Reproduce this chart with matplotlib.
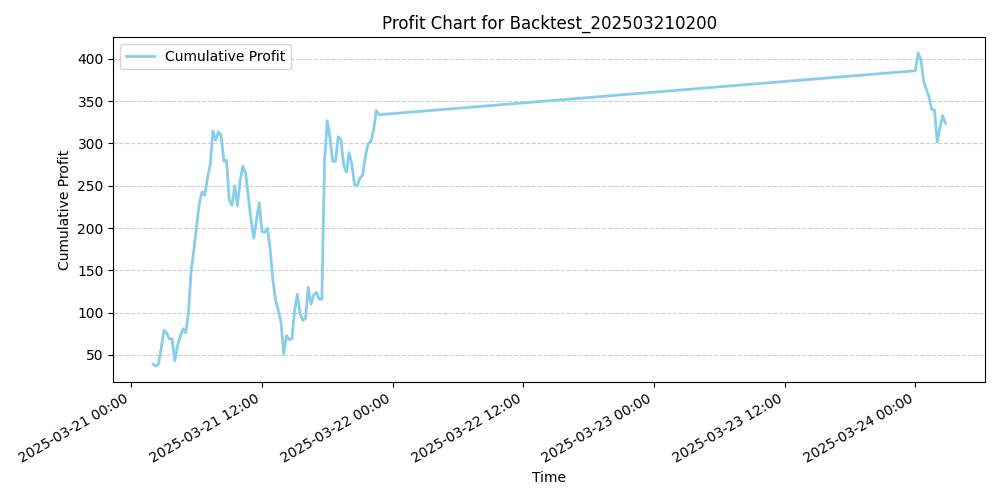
import pandas as pd
import matplotlib
matplotlib.use("Agg")
import matplotlib.pyplot as plt
import matplotlib.dates as mdates

# session 1: 2025-03-21 02:00 .. 22:45, 15 min bars
profit_day1 = [39, 37, 39, 58, 79, 76, 69, 69, 43, 61,
               72, 81, 76, 99, 150, 174, 202, 229, 243, 239,
               259, 275, 315, 304, 314, 309, 279, 280, 233, 227,
               250, 226, 257, 273, 265, 237, 210, 188, 210, 230,
               196, 195, 200, 175, 139, 115, 103, 88, 51, 73,
               68, 69, 103, 122, 99, 91, 93, 130, 110, 121,
               124, 116, 116, 281, 327, 306, 279, 279, 308, 305,
               275, 266, 289, 276, 251, 250, 259, 263, 285, 300,
               302, 316, 339, 334]
# session 2: 2025-03-24 00:00 .. 02:45
profit_day2 = [386, 407, 399, 374, 364, 355, 340, 340, 302, 319, 333, 324]

times = list(pd.date_range("2025-03-21 02:00", periods=len(profit_day1), freq="15min")) + \
        list(pd.date_range("2025-03-24 00:00", periods=len(profit_day2), freq="15min"))
profit = profit_day1 + profit_day2

fig, ax = plt.subplots(figsize=(10, 5), dpi=100)
ax.plot(times, profit, color="skyblue", linewidth=2, label="Cumulative Profit")
ax.set_title("Profit Chart for Backtest_202503210200")
ax.set_xlabel("Time")
ax.set_ylabel("Cumulative Profit")
ax.grid(axis="y", linestyle="--", alpha=0.6)
ax.legend(loc="upper left")
ax.xaxis.set_major_locator(mdates.HourLocator(byhour=[0, 12]))
ax.xaxis.set_major_formatter(mdates.DateFormatter("%Y-%m-%d %H:%M"))
fig.autofmt_xdate()
plt.tight_layout()
plt.savefig("out.png")
plt.close()
